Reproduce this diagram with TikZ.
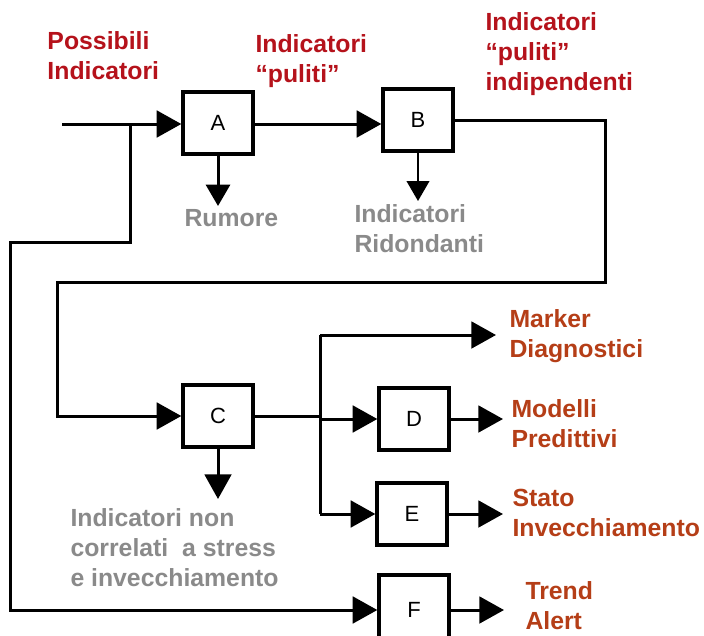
\documentclass[tikz,border=0pt]{standalone}
\usepackage{fontspec}
\setmainfont{Liberation Sans}
\usetikzlibrary{arrows.meta}

\definecolor{inred}{RGB}{181,18,27}
\definecolor{outred}{RGB}{181,62,23}
\definecolor{wastegray}{RGB}{138,138,138}

\tikzset{every picture/.style={line width=2.25pt}}
\tikzset{
  blockbox/.style={draw, line width=3pt, fill=white, inner sep=0pt, minimum width=52pt, minimum height=46pt, font=\fontsize{16.5}{19}\selectfont},
  lbl/.style={anchor=north west, inner sep=0pt, align=left, font=\bfseries\fontsize{18.6}{22.5}\selectfont},
  flow/.style={-{Triangle[length=18.5pt,width=20pt]}},
}

\begin{document}
\begin{tikzpicture}[x=0.75pt,y=0.75pt,yscale=-1,xscale=1]
\useasboundingbox (0,0) rectangle (704,636);

%Shapes: blocks
\node [blockbox] (A) at (218,123) {A};
\node [blockbox] (B) at (418,120) {B};
\node [blockbox] (C) at (218,416) {C};
\node [blockbox] (D) at (414,419) {D};
\node [blockbox] (E) at (412,514) {E};
\node [blockbox, minimum height=52pt] (F) at (414,610) {F};

%Coordinates for bends and free ends
\coordinate (in) at (62,124);
\coordinate (splitA) at (130,124);
\coordinate (low1) at (130,242);
\coordinate (low2) at (10,242);
\coordinate (ret1) at (605,282);
\coordinate (ret2) at (57,282);
\coordinate (sTop) at (320,335);
\coordinate (sBot) at (320,514);
\coordinate (mkTip) at (496,335);
\coordinate (noiseA) at (218,206);
\coordinate (noiseB) at (418,201);
\coordinate (noiseC) at (218,499);
\coordinate (outD) at (503,419);
\coordinate (outE) at (503,514);
\coordinate (outF) at (504,610);

%Straight Lines
\draw [flow] (in) -- (A.west |- in);
\draw [flow] (A.east |- in) -- (B.west |- in);
\draw [flow] (B.east) -| (ret1) -- (ret2) |- (C.west);
\draw [flow] (splitA) -- (low1) -- (low2) |- (F.west);
\draw (C.east) -- (C.east -| sTop);
\draw (sTop) -- (sBot);
\draw [flow] (sTop) -- (mkTip);
\draw [flow] (D.west -| sTop) -- (D.west);
\draw [flow] (sBot) -- (E.west);
\draw [flow] (D.east) -- (outD);
\draw [flow] (E.east) -- (outE);
\draw [flow] (F.east |- outF) -- (outF);
\draw [-{Triangle[length=16pt,width=18pt]}] (A.south) -- (noiseA);
\draw [line width=1.5pt,-{Triangle[length=15pt,width=17pt]}] (B.south) -- (noiseB);
\draw [flow] (C.south) -- (noiseC);

% Text Node
\node [lbl, text=inred] (possibili) at (46,30) {Possibili\\Indicatori};
% Text Node
\node [lbl, text=inred] (puliti) at (254,33) {Indicatori\\“puliti”};
% Text Node
\node [lbl, text=inred] (indip) at (484,11) {Indicatori\\“puliti”\\indipendenti};
% Text Node
\node [lbl, text=wastegray] (rumore) at (183,208) {Rumore};
% Text Node
\node [lbl, text=wastegray] (ridond) at (353,203) {Indicatori\\Ridondanti};
% Text Node
\node [lbl, text=wastegray] (noncorr) at (69,507) {Indicatori non\\correlati~ a stress\\e invecchiamento};
% Text Node
\node [lbl, text=outred] (marker) at (508,308) {Marker\\Diagnostici};
% Text Node
\node [lbl, text=outred] (modelli) at (510,398) {Modelli\\Predittivi};
% Text Node
\node [lbl, text=outred] (stato) at (511,488) {Stato\\Invecchiamento};
% Text Node
\node [lbl, text=outred] (trend) at (524,580) {Trend\\Alert};

\end{tikzpicture}
\end{document}
